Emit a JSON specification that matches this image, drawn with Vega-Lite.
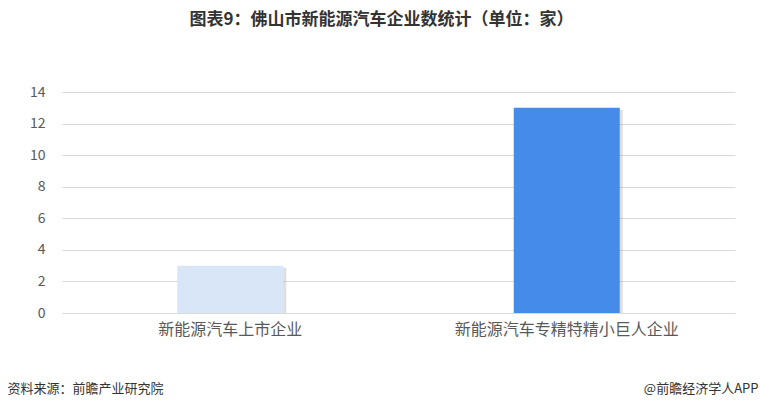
{
  "$schema": "https://vega.github.io/schema/vega-lite/v6.json",
  "width": 673,
  "height": 221,
  "autosize": {"type": "none"},
  "padding": {"left": 62, "top": 92, "right": 25, "bottom": 97},
  "background": "white",
  "config": {
    "font": "Noto Sans CJK SC",
    "view": {"stroke": null}
  },
  "title": {
    "text": "图表9：佛山市新能源汽车企业数统计（单位：家）",
    "font": "Noto Sans CJK SC",
    "fontSize": 17,
    "fontWeight": "bold",
    "color": "#333333",
    "anchor": "middle",
    "frame": "group",
    "dx": -17,
    "offset": 56
  },
  "data": {
    "values": [
      {"category": "新能源汽车上市企业", "count": 3},
      {"category": "新能源汽车专精特精小巨人企业", "count": 13}
    ]
  },
  "encoding": {
    "x": {
      "field": "category",
      "type": "nominal",
      "sort": null,
      "scale": {"paddingInner": 0.685, "paddingOuter": 0.3425},
      "axis": {
        "title": "资料来源：前瞻产业研究院",
        "titleFont": "Noto Sans CJK SC",
        "titleFontSize": 13,
        "titleFontWeight": "normal",
        "titleColor": "#333333",
        "titleAnchor": "start",
        "titleAlign": "left",
        "titleBaseline": "middle",
        "titleX": -55,
        "titleY": 75,
        "labelAngle": 0,
        "labelFontSize": 16,
        "labelColor": "#595959",
        "labelPadding": 8,
        "labelLimit": 0,
        "ticks": false,
        "domain": true,
        "domainColor": "#d9d9d9",
        "domainWidth": 1
      }
    },
    "y": {
      "field": "count",
      "type": "quantitative",
      "scale": {"domain": [0, 14]},
      "axis": {
        "values": [0, 2, 4, 6, 8, 10, 12, 14],
        "title": "@前瞻经济学人APP",
        "titleFont": "Noto Sans CJK SC",
        "titleFontSize": 13,
        "titleFontWeight": "normal",
        "titleColor": "#333333",
        "titleAngle": 0,
        "titleAlign": "right",
        "titleBaseline": "middle",
        "titleX": 696,
        "titleY": 296,
        "labelFontSize": 14,
        "labelColor": "#595959",
        "labelPadding": 17,
        "ticks": false,
        "domain": false,
        "grid": true,
        "gridColor": "#d9d9d9",
        "gridWidth": 1
      }
    }
  },
  "layer": [
    {
      "mark": {"type": "bar", "color": "#7f7f7f", "opacity": 0.25, "xOffset": 3, "yOffset": 2, "clip": true}
    },
    {
      "mark": {"type": "bar"},
      "encoding": {
        "color": {
          "field": "category",
          "type": "nominal",
          "sort": null,
          "scale": {"range": ["#d9e6f8", "#458ce8"]},
          "legend": null
        }
      }
    }
  ]
}
